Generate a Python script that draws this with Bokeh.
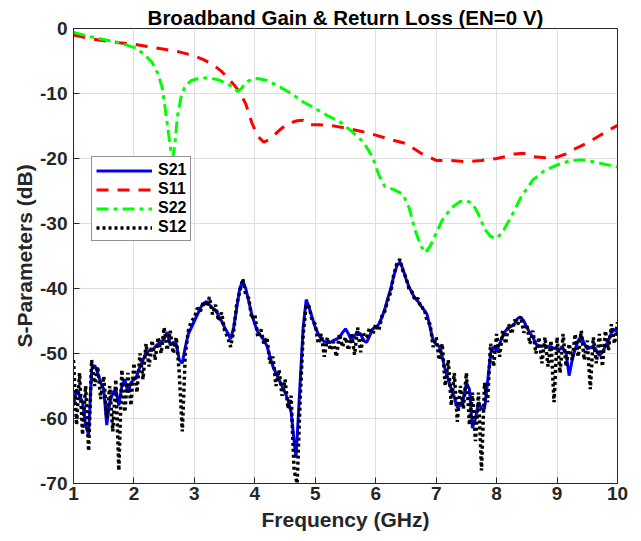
from bokeh.plotting import figure
from bokeh.models import Legend, LegendItem, Range1d, FixedTicker
from bokeh.embed import file_html
from bokeh.resources import INLINE

# ---------------- data ----------------
f_s21 = [1.00, 1.05, 1.10, 1.15, 1.20, 1.25, 1.30, 1.35, 1.40, 1.45, 1.50, 1.55, 1.60, 1.65, 1.70,
         1.75, 1.80, 1.85, 1.90, 1.95, 2.00, 2.05, 2.10, 2.15, 2.20, 2.25, 2.30, 2.35, 2.40, 2.45,
         2.50, 2.55, 2.60, 2.65, 2.70, 2.75, 2.80, 2.85, 2.90, 2.95, 3.00, 3.05, 3.10, 3.15, 3.20,
         3.25, 3.30, 3.35, 3.40, 3.45, 3.50, 3.55, 3.60, 3.65, 3.70, 3.75, 3.80, 3.85, 3.90, 3.95,
         4.00, 4.05, 4.10, 4.15, 4.20, 4.25, 4.30, 4.35, 4.40, 4.45, 4.50, 4.55, 4.60, 4.65, 4.68,
         4.70, 4.75, 4.80, 4.85, 4.90, 4.95, 5.00, 5.05, 5.10, 5.15, 5.20, 5.25, 5.30, 5.35, 5.40,
         5.45, 5.50, 5.55, 5.60, 5.65, 5.70, 5.75, 5.80, 5.85, 5.90, 5.95, 6.00, 6.05, 6.10, 6.15,
         6.20, 6.25, 6.30, 6.35, 6.40, 6.45, 6.50, 6.55, 6.60, 6.65, 6.70, 6.75, 6.80, 6.85, 6.90,
         6.95, 7.00, 7.05, 7.10, 7.15, 7.20, 7.25, 7.30, 7.35, 7.40, 7.45, 7.50, 7.55, 7.60, 7.65,
         7.70, 7.75, 7.80, 7.85, 7.90, 7.95, 8.00, 8.05, 8.10, 8.15, 8.20, 8.25, 8.30, 8.35, 8.40,
         8.45, 8.50, 8.55, 8.60, 8.65, 8.70, 8.75, 8.80, 8.85, 8.90, 8.95, 9.00, 9.05, 9.10, 9.15,
         9.20, 9.25, 9.30, 9.35, 9.40, 9.45, 9.50, 9.55, 9.60, 9.65, 9.70, 9.75, 9.80, 9.85, 9.90,
         9.95, 10.00]
s21 = [-58.0, -55.5, -56.5, -57.5, -61.0, -62.5, -52.5, -51.8, -53.0, -54.5, -55.5, -61.0, -57.5, -56.0, -55.5,
       -58.0, -55.0, -54.0, -56.0, -54.5, -54.0, -53.4, -52.0, -51.0, -49.8, -49.6, -49.5, -49.0, -48.5, -48.2,
       -47.8, -46.7, -48.7, -48.3, -48.5, -51.0, -51.5, -49.0, -47.0, -46.0, -45.0, -44.0, -43.0, -42.3, -42.0,
       -42.5, -43.0, -43.3, -44.2, -45.0, -46.0, -46.8, -47.8, -46.0, -43.0, -40.0, -38.8, -40.0, -42.0, -44.0,
       -45.5, -46.7, -47.3, -48.0, -48.8, -50.5, -52.0, -53.0, -54.0, -55.0, -56.0, -57.2, -59.0, -63.5, -66.0,
       -63.0, -54.4, -46.0, -41.7, -43.0, -44.5, -46.0, -47.0, -47.8, -48.2, -48.3, -48.3, -48.0, -47.8, -47.5,
       -46.8, -46.2, -47.0, -48.0, -47.3, -46.7, -47.0, -48.0, -48.3, -47.3, -46.2, -46.0, -45.5, -44.5, -43.2,
       -41.5, -40.0, -38.0, -36.5, -35.9, -37.0, -38.5, -39.7, -40.7, -41.5, -42.0, -42.7, -43.3, -44.0, -46.0,
       -48.0, -48.6, -48.9, -50.5, -52.5, -54.0, -55.5, -56.7, -58.3, -58.0, -57.0, -54.5, -55.5, -61.5, -60.0,
       -57.5, -58.5, -58.5, -54.5, -50.0, -49.0, -49.6, -48.5, -47.3, -46.5, -46.0, -45.8, -45.4, -44.6, -44.4,
       -45.0, -46.0, -46.8, -47.5, -48.5, -48.9, -48.9, -48.8, -48.9, -49.0, -49.2, -49.3, -49.3, -49.2, -50.0,
       -53.4, -51.0, -49.3, -48.0, -47.3, -48.5, -49.3, -49.1, -48.9, -49.5, -50.3, -49.8, -48.9, -48.0, -46.8,
       -46.3, -46.7]

f_s12 = [1.00, 1.05, 1.10, 1.15, 1.20, 1.25, 1.30, 1.35, 1.40, 1.45, 1.50, 1.55, 1.60, 1.65, 1.70,
         1.75, 1.80, 1.85, 1.90, 1.95, 2.00, 2.05, 2.10, 2.15, 2.20, 2.25, 2.30, 2.35, 2.40, 2.45,
         2.50, 2.55, 2.60, 2.65, 2.70, 2.75, 2.80, 2.85, 2.90, 2.95, 3.00, 3.05, 3.10, 3.15, 3.20,
         3.25, 3.30, 3.35, 3.40, 3.45, 3.50, 3.55, 3.60, 3.65, 3.70, 3.75, 3.80, 3.85, 3.90, 3.95,
         4.00, 4.05, 4.10, 4.15, 4.20, 4.25, 4.30, 4.35, 4.40, 4.45, 4.50, 4.55, 4.60, 4.65, 4.70,
         4.75, 4.80, 4.85, 4.90, 4.95, 5.00, 5.05, 5.10, 5.15, 5.20, 5.25, 5.30, 5.35, 5.40, 5.45,
         5.50, 5.55, 5.60, 5.65, 5.70, 5.75, 5.80, 5.85, 5.90, 5.95, 6.00, 6.05, 6.10, 6.15, 6.20,
         6.25, 6.30, 6.35, 6.40, 6.45, 6.50, 6.55, 6.60, 6.65, 6.70, 6.75, 6.80, 6.85, 6.90, 6.95,
         7.00, 7.05, 7.10, 7.15, 7.20, 7.25, 7.30, 7.35, 7.40, 7.45, 7.50, 7.55, 7.60, 7.65, 7.70,
         7.75, 7.80, 7.85, 7.90, 7.95, 8.00, 8.05, 8.10, 8.15, 8.20, 8.25, 8.30, 8.35, 8.40, 8.45,
         8.50, 8.55, 8.60, 8.65, 8.70, 8.75, 8.80, 8.85, 8.90, 8.95, 9.00, 9.05, 9.10, 9.15, 9.20,
         9.25, 9.30, 9.35, 9.40, 9.45, 9.50, 9.55, 9.60, 9.65, 9.70, 9.75, 9.80, 9.85, 9.90, 9.95,
         10.00]
s12 = [-51.0, -61.0, -53.0, -62.5, -55.0, -65.0, -51.0, -55.0, -52.0, -57.0, -53.5, -60.0, -55.0, -62.0, -54.0,
       -68.0, -52.5, -59.0, -53.0, -58.0, -51.5, -56.0, -50.0, -54.0, -48.5, -52.0, -48.0, -51.0, -47.5, -50.0,
       -46.0, -49.5, -46.5, -50.0, -47.5, -53.0, -62.0, -50.0, -46.5, -45.0, -44.5, -43.0, -43.5, -42.0, -42.8,
       -41.3, -44.0, -42.5, -45.0, -43.7, -46.5, -47.5, -49.0, -46.5, -42.5, -40.5, -38.5, -41.0, -41.5, -44.7,
       -44.0, -47.5, -46.3, -48.5, -47.5, -51.5, -50.5, -55.0, -52.5, -56.5, -54.0, -58.5, -56.5, -68.0, -70.0,
       -57.0, -47.0, -42.5, -42.8, -45.0, -45.5, -48.5, -47.0, -50.5, -47.5, -49.5, -48.2, -50.5, -47.0, -49.0,
       -47.5, -49.5, -46.8, -50.2, -46.0, -49.8, -47.0, -47.5, -46.0, -47.0, -45.5, -46.5, -44.3, -43.5, -41.8,
       -40.5, -37.8, -36.2, -35.5, -37.3, -38.3, -40.0, -40.5, -41.8, -41.5, -43.0, -43.0, -45.0, -45.5, -49.0,
       -47.5, -51.0, -48.5, -55.0, -51.0, -58.0, -53.0, -60.5, -55.0, -58.5, -53.0, -61.0, -56.0, -63.5, -56.0,
       -68.0, -54.5, -57.5, -48.5, -52.0, -47.0, -50.5, -46.5, -48.5, -45.5, -47.0, -44.8, -45.5, -44.3, -46.8,
       -45.5, -48.5, -46.5, -50.0, -47.5, -51.5, -47.5, -52.0, -48.0, -57.5, -47.5, -53.0, -47.0, -52.0, -48.5,
       -51.0, -47.0, -50.5, -46.5, -51.0, -48.0, -55.5, -47.5, -51.5, -47.0, -52.0, -46.5, -49.5, -45.5, -48.5,
       -45.2]

f_s11 = [1.0, 1.25, 1.5, 1.75, 2.0, 2.25, 2.5, 2.75, 3.0, 3.15, 3.3, 3.45, 3.55, 3.65, 3.75, 3.85, 3.95,
         4.05, 4.15, 4.25, 4.4, 4.55, 4.7, 4.8, 4.9, 5.05, 5.25, 5.5, 5.75, 6.0, 6.25, 6.5, 6.75, 7.0,
         7.25, 7.5, 7.75, 8.0, 8.15, 8.3, 8.45, 8.6, 8.8, 9.0, 9.15, 9.3, 9.5, 9.7, 9.85, 10.0]
s11 = [-1.0, -1.5, -1.9, -2.2, -2.4, -2.8, -3.2, -3.6, -4.2, -4.8, -5.5, -6.6, -7.6, -8.6, -9.8, -11.6, -14.5,
       -16.6, -17.5, -17.0, -15.7, -14.6, -14.2, -14.1, -14.8, -14.8, -14.9, -15.3, -15.8, -16.4, -17.1, -17.7,
       -19.2, -20.3, -20.3, -20.5, -20.3, -20.0, -19.7, -19.3, -19.2, -19.7, -19.9, -19.8, -19.3, -18.5, -17.6,
       -16.5, -15.7, -14.9]

f_s22 = [1.0, 1.25, 1.5, 1.75, 2.0, 2.15, 2.3, 2.4, 2.47, 2.52, 2.57, 2.61, 2.645, 2.68, 2.72, 2.78,
         2.85, 2.95, 3.1, 3.25, 3.4, 3.55, 3.65, 3.72, 3.78, 3.85, 3.95, 4.05, 4.2, 4.4, 4.6, 4.8, 5.0,
         5.2, 5.4, 5.6, 5.8, 5.95, 6.05, 6.15, 6.3, 6.45, 6.55, 6.65, 6.75, 6.82, 6.9, 7.0, 7.1, 7.25,
         7.4, 7.5, 7.6, 7.7, 7.8, 7.9, 8.0, 8.1, 8.25, 8.4, 8.6, 8.8, 9.0, 9.2, 9.4, 9.6, 9.8, 10.0]
s22 = [-0.6, -1.2, -1.7, -2.2, -2.9, -3.8, -5.2, -7.0, -9.2, -12.5, -16.0, -18.8, -19.8, -17.5, -13.5, -10.5,
       -8.8, -8.0, -7.6, -7.6, -7.9, -8.5, -9.2, -9.7, -9.2, -8.3, -7.8, -7.7, -8.0, -8.9, -10.0, -11.3, -12.3,
       -13.4, -14.3, -15.8, -17.5, -19.8, -22.5, -24.3, -24.8, -25.5, -27.5, -31.0, -33.5, -34.5, -33.5, -31.5,
       -29.5, -27.6, -26.6, -26.5, -26.9, -28.6, -30.8, -32.0, -32.3, -31.3, -28.8, -26.0, -23.3, -21.8, -21.0,
       -20.4, -20.2, -20.5, -20.9, -21.3]

x_ticks = [1, 2, 3, 4, 5, 6, 7, 8, 9, 10]
y_ticks = [-70, -60, -50, -40, -30, -20, -10, 0]
y_tick_labels = ["-70", "-60", "-50", "-40", "-30", "-20", "-10", "0"]

# ---------------- figure ----------------
FONT = "Liberation Sans"
DARK = "#262626"

p = figure(width=633, height=533, x_range=Range1d(1, 10), y_range=Range1d(-70, 0),
           output_backend="svg", toolbar_location=None,
           title="Broadband Gain & Return Loss (EN=0 V)",
           min_border_left=73, min_border_right=16, min_border_top=28, min_border_bottom=48)

p.title.align = "center"
p.title.text_font = FONT
p.title.text_font_size = "20.5px"
p.title.text_font_style = "bold"
p.title.text_color = "black"
p.title.standoff = 0
p.title.offset = 0

r21 = p.line(f_s21, s21, line_color="#0000ff", line_width=3)
r11 = p.line(f_s11, s11, line_color="#ff0000", line_width=3, line_dash="12 9")
r22 = p.line(f_s22, s22, line_color="#00ff00", line_width=3, line_dash="12 5 4 5")
r12 = p.line(f_s12, s12, line_color="black", line_width=3.5, line_dash="3 3")

for ax in (p.xaxis[0], p.yaxis[0]):
    ax.major_label_text_font = FONT
    ax.major_label_text_font_size = "19px"
    ax.major_label_text_font_style = "bold"
    ax.major_label_text_color = DARK
    ax.axis_label_text_font = FONT
    ax.axis_label_text_font_size = "21px"
    ax.axis_label_text_font_style = "bold"
    ax.axis_label_text_color = DARK
    ax.axis_line_color = DARK
    ax.major_tick_line_color = DARK
    ax.major_tick_in = 6
    ax.major_tick_out = 0
    ax.minor_tick_line_color = None

p.xaxis[0].ticker = FixedTicker(ticks=x_ticks)
p.yaxis[0].ticker = FixedTicker(ticks=y_ticks)
p.yaxis[0].major_label_overrides = dict(zip(y_ticks, y_tick_labels))
p.xaxis[0].axis_label = "Frequency (GHz)"
p.yaxis[0].axis_label = "S-Parameters (dB)"
p.xaxis[0].major_label_standoff = 3
p.yaxis[0].major_label_standoff = 6
p.xaxis[0].axis_label_standoff = 5
p.yaxis[0].axis_label_standoff = 1

p.grid.grid_line_color = "#dfdfdf"
p.grid.grid_line_width = 1
p.outline_line_color = DARK
p.outline_line_width = 1
p.outline_line_alpha = 1

legend = Legend(items=[LegendItem(label="S21", renderers=[r21]),
                       LegendItem(label="S11", renderers=[r11]),
                       LegendItem(label="S22", renderers=[r22]),
                       LegendItem(label="S12", renderers=[r12])],
                location=(18, 242))
legend.label_text_font = FONT
legend.label_text_font_size = "16px"
legend.label_text_font_style = "bold"
legend.label_text_color = "black"
legend.glyph_width = 56
legend.glyph_height = 17
legend.label_height = 17
legend.label_standoff = 6
legend.spacing = 1
legend.padding = 4
legend.margin = 0
legend.border_line_color = DARK
legend.border_line_width = 1
legend.background_fill_alpha = 1
p.add_layout(legend)

open("out.html", "w").write(file_html(p, INLINE))
